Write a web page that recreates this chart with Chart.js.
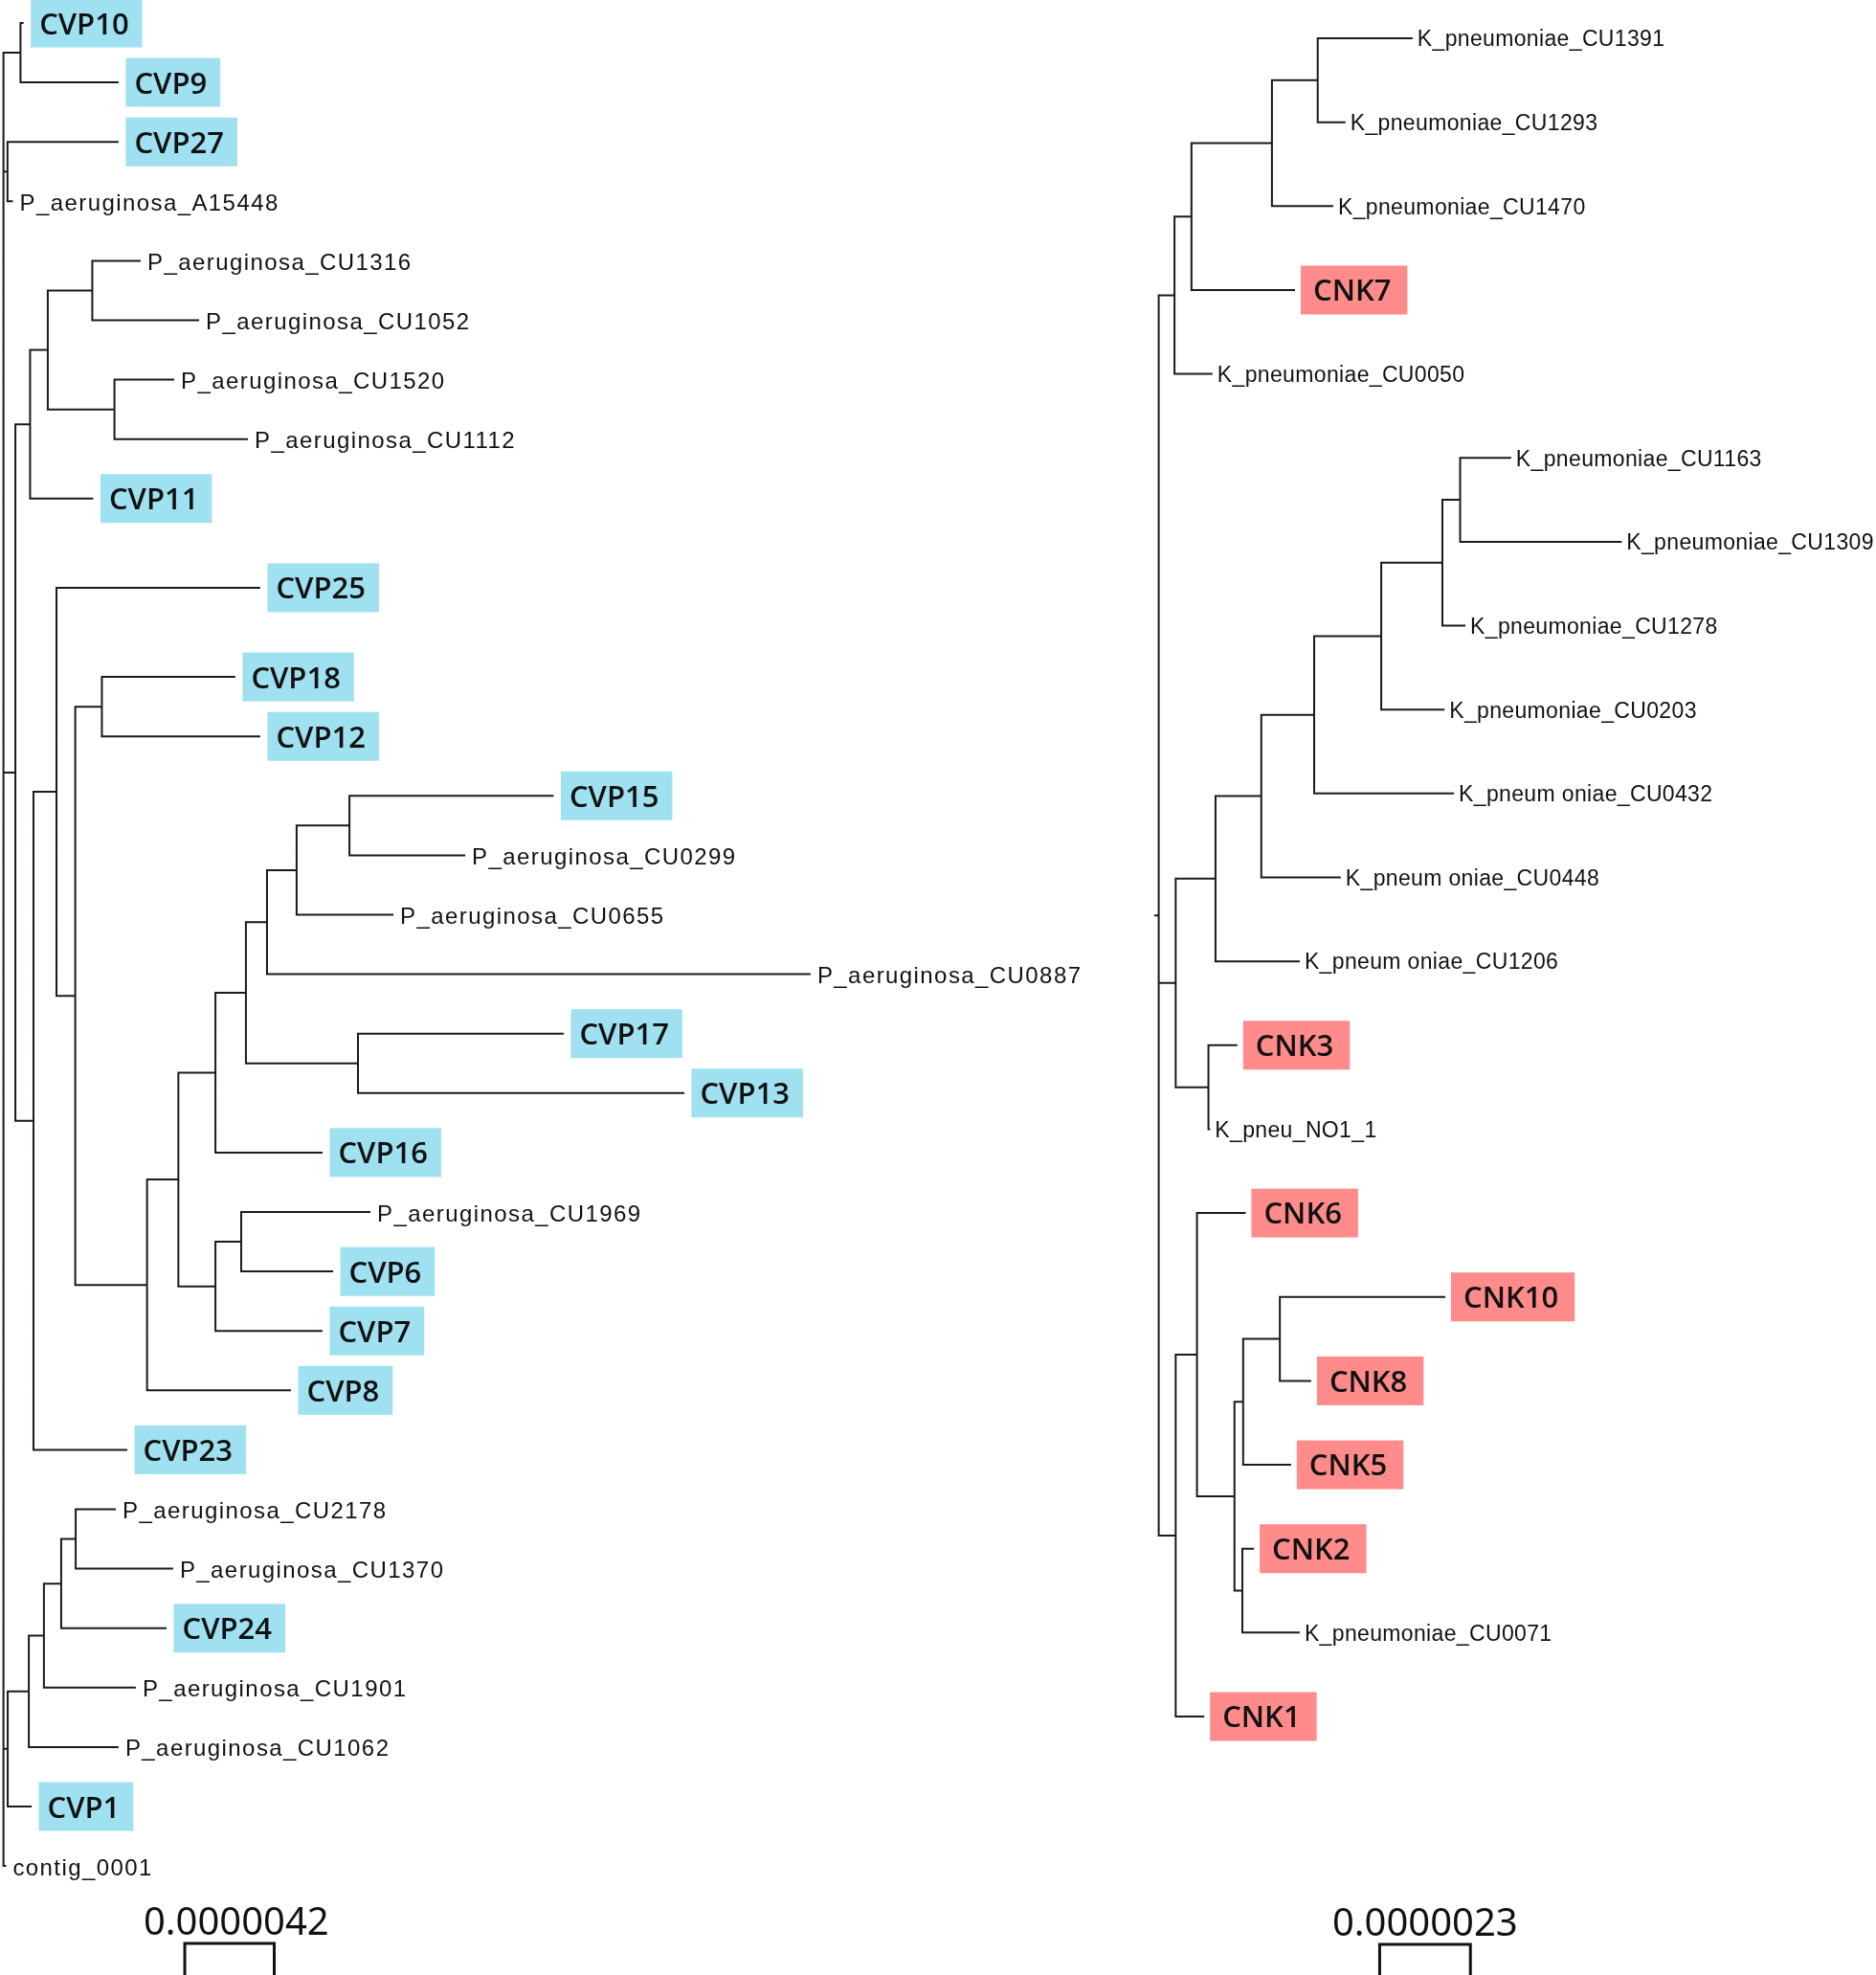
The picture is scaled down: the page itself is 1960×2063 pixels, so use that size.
<!DOCTYPE html>
<html>
<head>
<meta charset="utf-8">
<script src="https://cdn.jsdelivr.net/npm/chart.js@4.4.1/dist/chart.umd.min.js"></script>
<style>
html,body{margin:0;padding:0;background:#ffffff;}
#wrap{width:1960px;height:2063px;position:relative;}
</style>
</head>
<body>
<div id="wrap"><canvas id="c"></canvas></div>
<script>
// ---------------- DATA ----------------
// Branch depths are distances from the root in units of 1e-7 substitutions/site.
// Rows are tip positions in the vertical order of each tree.

// Left tree (P. aeruginosa)
const leftTips = ['CVP10','CVP9','CVP27','P_aeruginosa_A15448','P_aeruginosa_CU1316','P_aeruginosa_CU1052',
  'P_aeruginosa_CU1520','P_aeruginosa_CU1112','CVP11','CVP25','CVP18','CVP12','CVP15','P_aeruginosa_CU0299',
  'P_aeruginosa_CU0655','P_aeruginosa_CU0887','CVP17','CVP13','CVP16','P_aeruginosa_CU1969','CVP6','CVP7',
  'CVP8','CVP23','P_aeruginosa_CU2178','P_aeruginosa_CU1370','CVP24','P_aeruginosa_CU1901',
  'P_aeruginosa_CU1062','CVP1','contig_0001'];
const leftRows = [0,1,2,3,4,5,6,7,8,9.5,11,12,13,14,15,16,17,18,19,20,21,22,23,24,25,26,27,28,29,30,31];
const leftTipDepth = [9.0,53.6,53.6,4.0,64.0,91.4,79.7,114.3,41.7,120.1,108.4,120.1,257.8,216.3,182.6,378.4,
  262.5,319.1,149.3,171.8,154.3,149.3,134.5,57.7,52.3,79.2,76.1,61.7,53.6,12.8,0.8];
const leftBoxed = ['CVP10','CVP9','CVP27','CVP11','CVP25','CVP18','CVP12','CVP15','CVP17','CVP13','CVP16',
  'CVP6','CVP7','CVP8','CVP23','CVP24','CVP1'];
// internal nodes: [id, depth, children]
const leftNodes = [
  ['L0', 0, ['L_10_9','L_27_A','L16','L8','contig_0001']],
  ['L_10_9', 8.0, ['CVP10','CVP9']],
  ['L_27_A', 1.9, ['CVP27','P_aeruginosa_A15448']],
  ['L16', 5.6, ['L_11c','L35']],
  ['L_11c', 12.5, ['L_P4','CVP11']],
  ['L_P4', 20.8, ['L_1316','L_1520']],
  ['L_1316', 41.7, ['P_aeruginosa_CU1316','P_aeruginosa_CU1052']],
  ['L_1520', 52.1, ['P_aeruginosa_CU1520','P_aeruginosa_CU1112']],
  ['L35', 14.1, ['LBig','CVP23']],
  ['LBig', 24.9, ['CVP25','L78']],
  ['L78', 33.7, ['L_18_12','L153']],
  ['L_18_12', 46.2, ['CVP18','CVP12']],
  ['L153', 67.4, ['L186','CVP8']],
  ['L186', 82.1, ['L225a','L225b']],
  ['L225a', 99.5, ['L257','CVP16']],
  ['L257', 113.8, ['L279','L374']],
  ['L279', 123.7, ['L310','P_aeruginosa_CU0887']],
  ['L310', 137.6, ['L365','P_aeruginosa_CU0655']],
  ['L365', 162.4, ['CVP15','P_aeruginosa_CU0299']],
  ['L374', 166.4, ['CVP17','CVP13']],
  ['L225b', 99.5, ['L252','CVP7']],
  ['L252', 111.6, ['P_aeruginosa_CU1969','CVP6']],
  ['L8', 2.0, ['L30','CVP1']],
  ['L30', 11.9, ['L46','P_aeruginosa_CU1062']],
  ['L46', 19.0, ['L64','P_aeruginosa_CU1901']],
  ['L64', 27.1, ['L79','CVP24']],
  ['L79', 33.9, ['P_aeruginosa_CU2178','P_aeruginosa_CU1370']]
];

// Right tree (K. pneumoniae)
const rightTips = ['K_pneumoniae_CU1391','K_pneumoniae_CU1293','K_pneumoniae_CU1470','CNK7','K_pneumoniae_CU0050',
  'K_pneumoniae_CU1163','K_pneumoniae_CU1309','K_pneumoniae_CU1278','K_pneumoniae_CU0203','K_pneum oniae_CU0432',
  'K_pneum oniae_CU0448','K_pneum oniae_CU1206','CNK3','K_pneu_NO1_1','CNK6','CNK10','CNK8','CNK5','CNK2',
  'K_pneumoniae_CU0071','CNK1'];
const rightRows = [0,1,2,3,4,5,6,7,8,9,10,11,12,13,14,15,16,17,18,19,20];
const rightTipDepth = [64.1,47.1,44.0,34.3,13.4,89.1,117.1,77.5,72.2,74.6,45.9,35.5,19.7,12.8,21.8,72.4,38.4,
  33.3,23.9,35.5,11.3];
const rightBoxed = ['CNK7','CNK3','CNK6','CNK10','CNK8','CNK5','CNK2','CNK1'];
const rightNodes = [
  ['R0', 0, ['R_1227','R_up','R_low']],
  ['R_1227', 4.0, ['R_1245','K_pneumoniae_CU0050']],
  ['R_1245', 8.3, ['R_1329','CNK7']],
  ['R_1329', 28.7, ['R_1391','K_pneumoniae_CU1470']],
  ['R_1391', 40.3, ['K_pneumoniae_CU1391','K_pneumoniae_CU1293']],
  ['R_up', 4.3, ['R_1270','R_cnk3']],
  ['R_1270', 14.4, ['R_1318','K_pneum oniae_CU1206']],
  ['R_1318', 26.0, ['R_1373','K_pneum oniae_CU0448']],
  ['R_1373', 39.4, ['R_1443','K_pneum oniae_CU0432']],
  ['R_1443', 56.4, ['R_1507','K_pneumoniae_CU0203']],
  ['R_1507', 71.9, ['R_1163','K_pneumoniae_CU1278']],
  ['R_1163', 76.4, ['K_pneumoniae_CU1163','K_pneumoniae_CU1309']],
  ['R_cnk3', 12.6, ['CNK3','K_pneu_NO1_1']],
  ['R_low', 4.3, ['R_1250','CNK1']],
  ['R_1250', 9.7, ['CNK6','R_1290']],
  ['R_1290', 19.2, ['R_1299','R_1298']],
  ['R_1299', 21.4, ['R_1337','CNK5']],
  ['R_1337', 30.7, ['CNK10','CNK8']],
  ['R_1298', 21.2, ['CNK2','K_pneumoniae_CU0071']]
];

// Scale bars: label and length in 1e-7 subst/site
const scaleBarLabels = ['0.0000042','0.0000023'];
const scaleBarLengths = [42, 23];

// ---------------- LAYOUT ----------------
const W = 1960, H = 2063;
const LEFT = {x0: 3.6, pxPerUnit: 2.226, y0: 24, rowPx: 62.1, barStart: 85.1, rootStub: 0, labelShift: 7};
const RIGHT = {x0: 1210.6, pxPerUnit: 4.122, y0: 40, rowPx: 87.65, barStart: 56.0, rootStub: 0.9, labelShift: 0};

const LEFT_STYLE = {plainFont: "24px 'Liberation Sans'", plainSpacing: '1.42px', plainGap: 8, plainBase: 9.5,
  boxFont: "600 31px 'Open Sans'", boxColor: '#9FE1F1', boxGap: 8.5, padL: 9, padR: 14, boxH: 51, boxBase: 11.5};
const RIGHT_STYLE = {plainFont: "23px 'Liberation Sans'", plainSpacing: '0.35px', plainGap: 6, plainBase: 8.3,
  boxFont: "600 31px 'Open Sans'", boxColor: '#FF8B8B', boxGap: 7, padL: 13, padR: 17, boxH: 51, boxBase: 11.3};

function buildTree(tips, rows, depths, nodes, stub) {
  const pos = {};
  tips.forEach((t, i) => { pos[t] = {x: depths[i], y: rows[i]}; });
  const map = {};
  nodes.forEach(n => { map[n[0]] = n; });
  function place(id) {
    if (pos[id]) return pos[id];
    const n = map[id];
    const ch = n[2].map(place);
    pos[id] = {x: n[1], y: (ch[0].y + ch[ch.length - 1].y) / 2};
    return pos[id];
  }
  place(nodes[0][0]);
  const seg = [];
  nodes.forEach(n => {
    const p = pos[n[0]];
    const ch = n[2].map(c => pos[c]);
    seg.push({x: p.x, y: ch[0].y}, {x: p.x, y: ch[ch.length - 1].y}, {x: p.x, y: null});
    ch.forEach(c => { seg.push({x: p.x, y: c.y}, {x: c.x, y: c.y}, {x: c.x, y: null}); });
  });
  if (stub > 0) {
    const r = pos[nodes[0][0]];
    seg.push({x: r.x - stub, y: r.y}, {x: r.x, y: r.y}, {x: r.x, y: null});
  }
  return seg;
}

const leftSeg = buildTree(leftTips, leftRows, leftTipDepth, leftNodes, LEFT.rootStub);
const rightSeg = buildTree(rightTips, rightRows, rightTipDepth, rightNodes, RIGHT.rootStub);

function drawTipLabels(ctx, xs, ys, tips, rows, depths, boxed, st) {
  tips.forEach((t, i) => {
    const px = xs.getPixelForValue(depths[i]);
    const py = ys.getPixelForValue(rows[i]);
    ctx.textAlign = 'left';
    ctx.textBaseline = 'alphabetic';
    if (boxed.includes(t)) {
      ctx.font = st.boxFont;
      ctx.letterSpacing = '0px';
      const w = ctx.measureText(t).width;
      const bx = px + st.boxGap;
      ctx.fillStyle = st.boxColor;
      ctx.fillRect(bx, py - st.boxH / 2, w + st.padL + st.padR, st.boxH);
      ctx.fillStyle = '#111111';
      ctx.fillText(t, bx + st.padL, py + st.boxBase);
    } else {
      ctx.font = st.plainFont;
      ctx.letterSpacing = st.plainSpacing;
      ctx.fillStyle = '#111111';
      ctx.fillText(t, px + st.plainGap, py + st.plainBase);
      ctx.letterSpacing = '0px';
    }
  });
}

function drawScaleBar(ctx, xs, start, len, label, top, shift) {
  const a = xs.getPixelForValue(start);
  const b = xs.getPixelForValue(start + len);
  ctx.save();
  ctx.strokeStyle = '#111111';
  ctx.lineWidth = 3;
  ctx.lineCap = 'butt';
  ctx.beginPath();
  ctx.moveTo(a, H + 2);
  ctx.lineTo(a, top);
  ctx.lineTo(b, top);
  ctx.lineTo(b, H + 2);
  ctx.stroke();
  ctx.font = "40px 'Noto Sans'";
  ctx.fillStyle = '#111111';
  ctx.textAlign = 'center';
  ctx.textBaseline = 'alphabetic';
  ctx.fillText(label, (a + b) / 2 + shift, top - 9);
  ctx.restore();
}

const labelPlugin = {
  id: 'treeLabels',
  afterDatasetsDraw(chart) {
    const ctx = chart.ctx;
    ctx.save();
    drawTipLabels(ctx, chart.scales.xL, chart.scales.yL, leftTips, leftRows, leftTipDepth, leftBoxed, LEFT_STYLE);
    drawTipLabels(ctx, chart.scales.xR, chart.scales.yR, rightTips, rightRows, rightTipDepth, rightBoxed, RIGHT_STYLE);
    ctx.restore();
    drawScaleBar(ctx, chart.scales.xL, LEFT.barStart, scaleBarLengths[0], scaleBarLabels[0], 2030, LEFT.labelShift);
    drawScaleBar(ctx, chart.scales.xR, RIGHT.barStart, scaleBarLengths[1], scaleBarLabels[1], 2031, RIGHT.labelShift);
  }
};

const bgPlugin = {
  id: 'bg',
  beforeDraw(chart) {
    const ctx = chart.ctx;
    ctx.save();
    ctx.fillStyle = '#ffffff';
    ctx.fillRect(0, 0, chart.width, chart.height);
    ctx.restore();
  }
};

const lineStyle = {showLine: true, pointRadius: 0, pointHoverRadius: 0, borderColor: '#1a1a1a',
  borderWidth: 2, borderCapStyle: 'square', borderJoinStyle: 'miter', spanGaps: false, tension: 0, fill: false};

new Chart(document.getElementById('c'), {
  type: 'scatter',
  data: {
    datasets: [
      Object.assign({label: 'P. aeruginosa tree', data: leftSeg, xAxisID: 'xL', yAxisID: 'yL'}, lineStyle),
      Object.assign({label: 'K. pneumoniae tree', data: rightSeg, xAxisID: 'xR', yAxisID: 'yR'}, lineStyle)
    ]
  },
  options: {
    responsive: true,
    maintainAspectRatio: false,
    devicePixelRatio: 1,
    animation: false,
    layout: {padding: 0},
    plugins: {legend: {display: false}, tooltip: {enabled: false}, title: {display: false}},
    events: [],
    scales: {
      xL: {type: 'linear', display: false, min: -LEFT.x0 / LEFT.pxPerUnit, max: (W - LEFT.x0) / LEFT.pxPerUnit},
      yL: {type: 'linear', display: false, reverse: true, min: -LEFT.y0 / LEFT.rowPx, max: (H - LEFT.y0) / LEFT.rowPx},
      xR: {type: 'linear', display: false, min: -RIGHT.x0 / RIGHT.pxPerUnit, max: (W - RIGHT.x0) / RIGHT.pxPerUnit},
      yR: {type: 'linear', display: false, reverse: true, min: -RIGHT.y0 / RIGHT.rowPx, max: (H - RIGHT.y0) / RIGHT.rowPx}
    }
  },
  plugins: [bgPlugin, labelPlugin]
});
</script>
</body>
</html>
